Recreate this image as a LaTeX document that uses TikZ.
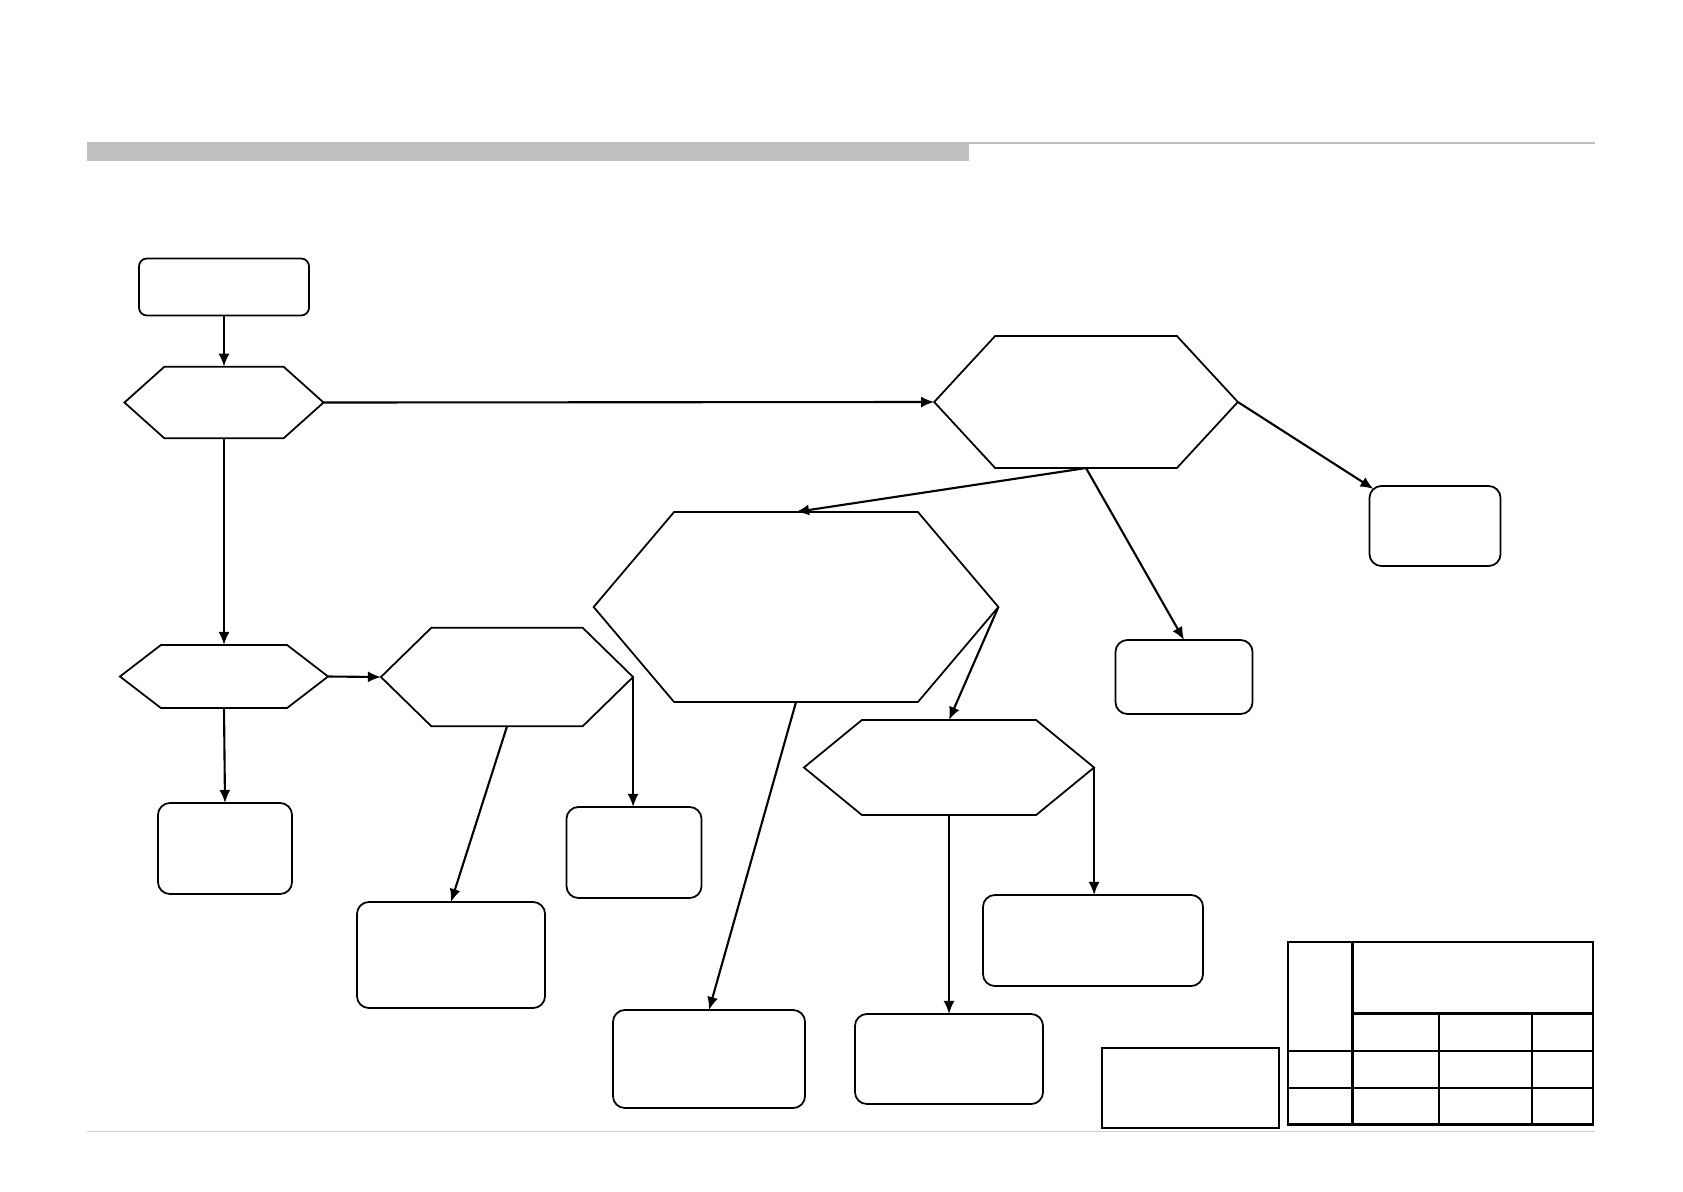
\documentclass[tikz,border=0pt]{standalone}
\usetikzlibrary{arrows.meta, calc, positioning}
\definecolor{RuleGrey}{HTML}{C0C0C0}
\definecolor{InkBlack}{HTML}{000000}
\newcommand{\hexframe}[2]{%
  \draw[hexline] (#1.west) -- ($(#1.north west)+(#2,0)$) -- ($(#1.north east)+(-#2,0)$)
    -- (#1.east) -- ($(#1.south east)+(-#2,0)$) -- ($(#1.south west)+(#2,0)$) -- cycle;}

\begin{document}
\begin{tikzpicture}[x=0.01cm, y=-0.01cm,
  card/.style={draw=InkBlack, line width=0.5pt, rounded corners=0.12cm, inner sep=0pt, outer sep=0pt},
  hexa/.style={draw=none, inner sep=0pt, outer sep=0pt},
  hexline/.style={draw=InkBlack, line width=0.5pt, line join=miter},
  flow/.style={-{Latex[length=1.3mm,width=1.1mm]}, line width=0.6pt, InkBlack},
  grid/.style={InkBlack, line width=0.75pt}]
  \useasboundingbox (0,0) rectangle (1683,1191);
  % header and footer rules
  \fill[RuleGrey] (87,142) rectangle (969,161);
  \draw[RuleGrey, line width=0.6pt] (969,143) -- (1595,143);
  \draw[RuleGrey!80, line width=0.4pt] (87,1131.5) -- (1595,1131.5);

  % boxes
  \node[card, rounded corners=0.08cm, minimum width=1.70cm, minimum height=0.57cm] (start) at (224,287) {};
  \node[card, minimum width=1.31cm, minimum height=0.80cm] (outA) at (1435,526) {};
  \node[card, minimum width=1.37cm, minimum height=0.74cm] (outB) at (1184,677) {};
  \node[card, minimum width=1.34cm, minimum height=0.91cm] (outC) at (225,848.5) {};
  \node[card, minimum width=1.35cm, minimum height=0.91cm] (outD) at (634,852.5) {};
  \node[card, minimum width=1.88cm, minimum height=1.06cm] (outE) at (451,955) {};
  \node[card, minimum width=2.20cm, minimum height=0.91cm] (outF) at (1093,940.5) {};
  \node[card, minimum width=1.92cm, minimum height=0.98cm] (outG) at (709,1059) {};
  \node[card, minimum width=1.88cm, minimum height=0.90cm] (outH) at (949,1059) {};

  % decisions
  \node[hexa, minimum width=1.99cm, minimum height=0.716cm] (decA) at (224,402.5) {};
  \node[hexa, minimum width=3.035cm, minimum height=1.32cm] (decB) at (1086,402) {};
  \node[hexa, minimum width=4.045cm, minimum height=1.90cm] (decC) at (796,607) {};
  \node[hexa, minimum width=2.08cm, minimum height=0.63cm] (decD) at (224,676.5) {};
  \node[hexa, minimum width=2.52cm, minimum height=0.986cm] (decE) at (507,677) {};
  \node[hexa, minimum width=2.90cm, minimum height=0.95cm] (decF) at (949,767.5) {};
  \hexframe{decA}{40}
  \hexframe{decB}{61}
  \hexframe{decC}{80.5}
  \hexframe{decD}{41}
  \hexframe{decE}{50.5}
  \hexframe{decF}{58}

  % connectors
  \draw[flow] (start.south) -- (decA.north);
  \draw[flow] (decA.east) -- (decB.west);
  \draw[flow] (decA.south) -- (decD.north);
  \draw[flow] (decD.east) -- (decE.west);
  \draw[flow] (decD.south) -- (outC.north);
  \draw[flow] (decE.south) -- (outE.north);
  \draw[flow] (decE.east) -- (decE.east |- outD.north);
  \draw[flow] (decB.east) -- ($(outA.north west)+(4,3)$);
  \draw[flow] (decB.south) -- (decC.north);
  \draw[flow] (decB.south) -- (outB.north);
  \draw[flow] (decC.south) -- (outG.north);
  \draw[flow] (decC.east) -- (decF.north);
  \draw[flow] (decF.south) -- (outH.north);
  \draw[flow] (decF.east) -- (decF.east |- outF.north);

  % title block
  \draw[grid] (1102,1048) rectangle (1279,1128);
  \draw[grid] (1288,942) rectangle (1593,1124.5);
  \draw[grid] (1352.5,942) -- (1352.5,1124.5);
  \draw[grid] (1352.5,1013.5) -- (1593,1013.5);
  \draw[grid] (1439,1013.5) -- (1439,1124.5);
  \draw[grid] (1532,1013.5) -- (1532,1124.5);
  \draw[grid] (1288,1051) -- (1593,1051);
  \draw[grid] (1288,1088) -- (1593,1088);
\end{tikzpicture}
\end{document}
